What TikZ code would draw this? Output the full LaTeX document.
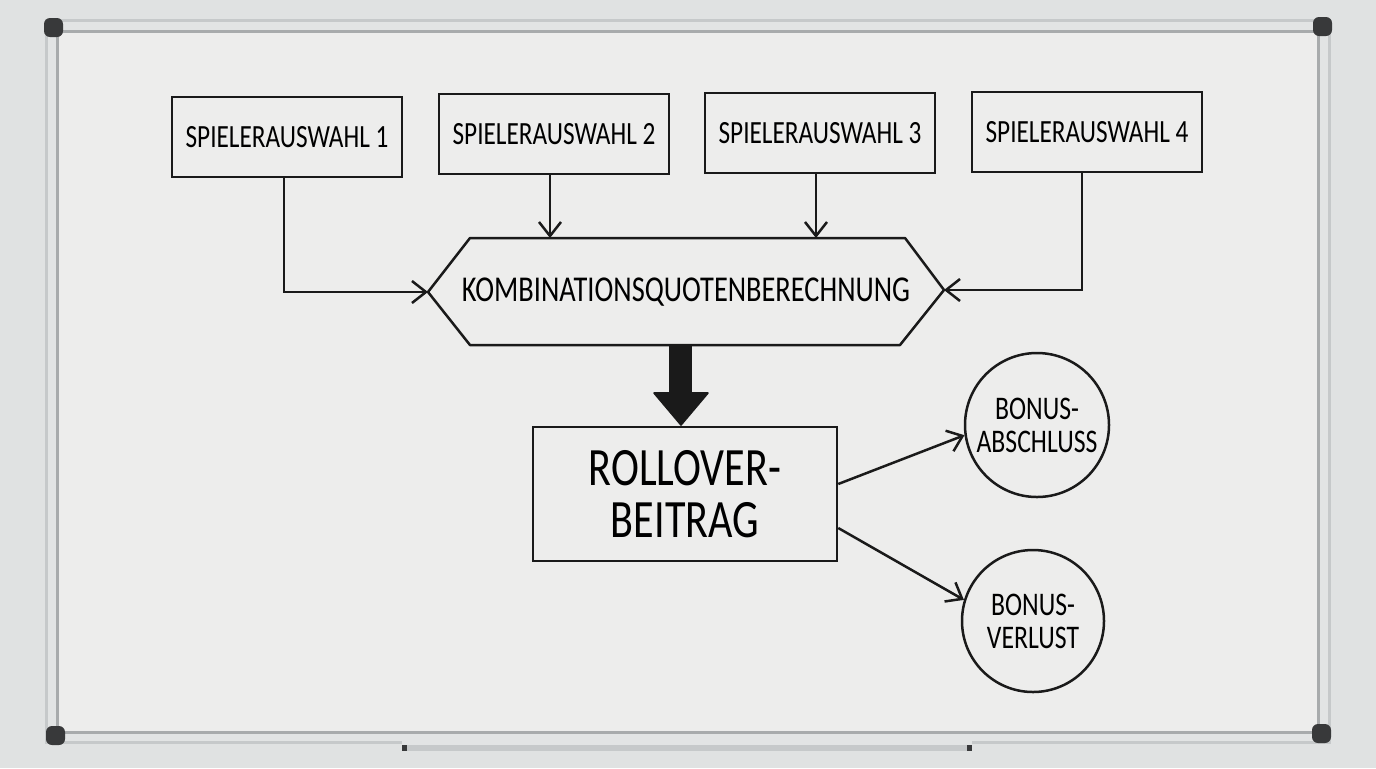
\documentclass[tikz,border=0pt]{standalone}
\usepackage{fontspec}
\setmainfont{Carlito}[FakeStretch=0.78]
\usetikzlibrary{arrows.meta,calc,positioning}

\definecolor{wall}{HTML}{E0E2E2}
\definecolor{board}{HTML}{EDEDEC}
\definecolor{alu}{HTML}{C6C9CA}
\definecolor{aluhi}{HTML}{E2E4E4}
\definecolor{capgray}{HTML}{38393A}
\definecolor{ink}{HTML}{1A1A1A}

\tikzset{
  pen/.style={draw=ink, line width=1.25pt},
  conn/.style={pen, -{Straight Barb[length=7pt,width=11pt]}},
  selbox/.style={pen, rectangle, minimum width=115pt, minimum height=40pt,
    inner sep=0pt, font=\fontsize{16.2}{17}\selectfont},
  bonuscirc/.style={pen, circle, inner sep=0pt, align=center,
    font=\fontsize{16.5}{16.5}\selectfont},
  framecap/.style={fill=capgray, rounded corners=3pt}
}

\begin{document}
\begin{tikzpicture}[x=0.5pt, y=-0.5pt]
  \useasboundingbox (0,0) rectangle (1376,768);
  \fill[wall] (0,0) rectangle (1376,768);
  % board frame and surface
  \fill[alu] (45,19) rectangle (1331,744);
  \fill[aluhi] (48,22) rectangle (1328,741);
  \fill[alu!85!black] (56,30) rectangle (1320,734);
  \fill[board] (59,33) rectangle (1317,731);
  \fill[framecap] (44,18) rectangle (63,37);
  \fill[framecap] (1313,17) rectangle (1332,36);
  \fill[framecap] (46,726) rectangle (65,745);
  \fill[framecap] (1312,724) rectangle (1331,743);
  % tray
  \fill[aluhi] (402,738) rectangle (972,746);
  \fill[alu] (402,745) rectangle (972,751);
  \fill[capgray] (402,745) rectangle (407,751);
  \fill[capgray] (967,745) rectangle (972,751);

  % player selections
  \node[selbox] (sel1) at (287,137) {SPIELERAUSWAHL 1};
  \node[selbox] (sel2) at (554,134) {SPIELERAUSWAHL 2};
  \node[selbox] (sel3) at (820,133) {SPIELERAUSWAHL 3};
  \node[selbox] (sel4) at (1087,132) {SPIELERAUSWAHL 4};

  % combination odds (hexagon)
  \coordinate (hexL) at (428,292);
  \coordinate (hexR) at (944,290);
  \coordinate (hexT2) at (550,238);
  \coordinate (hexT3) at (816,238);
  \draw[pen, line join=round] (hexL) -- (470,238) -- (905,238) -- (hexR)
    -- (900,345) -- (470,345) -- cycle;
  \node[font=\fontsize{18.2}{19}\selectfont] (kombi) at (686,292)
    {KOMBINATIONSQUOTENBERECHNUNG};

  \draw[conn] ([xshift=-1.5pt]sel1.south) |- (hexL);
  \draw[conn] (sel2.south -| hexT2) -- (hexT2);
  \draw[conn] (sel3.south -| hexT3) -- (hexT3);
  \draw[conn] ([xshift=-2.5pt]sel4.south) |- (hexR);

  % rollover
  \node[pen, rectangle, minimum width=152pt, minimum height=67pt, inner sep=0pt,
    align=center, font=\fontsize{27}{26}\selectfont] (roll) at (685,494)
    {ROLLOVER-\\BEITRAG};
  \filldraw[draw=ink, fill=ink, line width=0.8pt, line join=round]
    (670,345) -- (691,345) -- (691,393) -- (708,393) -- (681,425)
    -- (654,393) -- (670,393) -- cycle;

  % outcomes
  \node[bonuscirc, minimum size=72pt] (bonA) at (1037,425) {BONUS-\\ABSCHLUSS};
  \node[bonuscirc, minimum size=71pt] (bonV) at (1033,621) {BONUS-\\VERLUST};
  \draw[conn] ([yshift=5pt]roll.east) -- (bonA.188);
  \draw[conn] ([yshift=-17pt]roll.east) -- (bonV.163);
\end{tikzpicture}
\end{document}
